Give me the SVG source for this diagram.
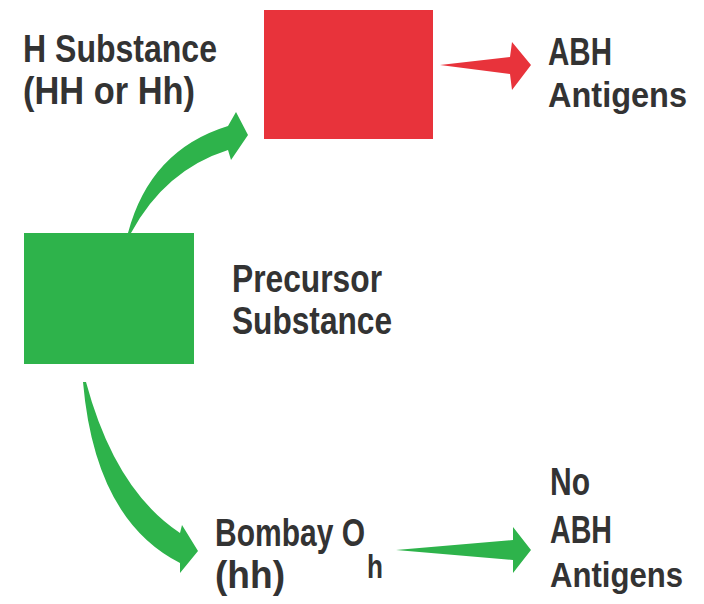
<svg xmlns="http://www.w3.org/2000/svg" width="704" height="604" viewBox="0 0 704 604">
<style>
.t{font-family:"Liberation Sans Narrow","Liberation Sans",Arial,sans-serif;font-weight:bold;font-size:38px;fill:#333333}
.s{font-size:35px}
.g{fill:#2eb34b}
.r{fill:#e8333b}
</style>
<rect x="0" y="0" width="704" height="604" fill="#ffffff"/>
<g id="connectors">
<path class="g" d="M128,233 Q150,150 228,126 L236,112 L248,135 L231,160 L228,150 Q165,170 131,233 Z"/>
<path class="r" d="M440,65 L510,57 L512,42 L531,65 L512,90 L510,74 Z"/>
<path class="g" d="M83,382 Q95,520 180,563 L180,573 L198,551 L182,525 L180,533 Q115,490 86,382 Z"/>
<path class="g" d="M396,550 L513,540 L513,527 L531,550 L513,573 L513,560 Z"/>
</g>
<g id="h-substance">
<rect x="264" y="10" width="169" height="129" class="r"/>
<text class="t" x="23" y="62" textLength="194" lengthAdjust="spacingAndGlyphs">H Substance</text>
<text class="t" x="23" y="104" textLength="172" lengthAdjust="spacingAndGlyphs">(HH or Hh)</text>
</g>
<g id="abh-antigens">
<text class="t" x="548" y="65" textLength="64" lengthAdjust="spacingAndGlyphs">ABH</text>
<text class="t s" x="548" y="107" textLength="139" lengthAdjust="spacingAndGlyphs">Antigens</text>
</g>
<g id="precursor">
<rect x="24" y="233" width="170" height="131" class="g"/>
<text class="t" x="232" y="292" textLength="150" lengthAdjust="spacingAndGlyphs">Precursor</text>
<text class="t" x="232" y="334" textLength="160" lengthAdjust="spacingAndGlyphs">Substance</text>
</g>
<g id="bombay">
<text class="t" x="215" y="546" textLength="150" lengthAdjust="spacingAndGlyphs">Bombay O</text>
<text class="t" x="367" y="578" style="font-size:33px" textLength="16" lengthAdjust="spacingAndGlyphs">h</text>
<text class="t" x="215" y="588" textLength="70" lengthAdjust="spacingAndGlyphs">(hh)</text>
</g>
<g id="no-abh">
<text class="t" x="550" y="495" textLength="40" lengthAdjust="spacingAndGlyphs">No</text>
<text class="t" x="550" y="543" textLength="62" lengthAdjust="spacingAndGlyphs">ABH</text>
<text class="t s" x="550" y="587" textLength="133" lengthAdjust="spacingAndGlyphs">Antigens</text>
</g>
</svg>
